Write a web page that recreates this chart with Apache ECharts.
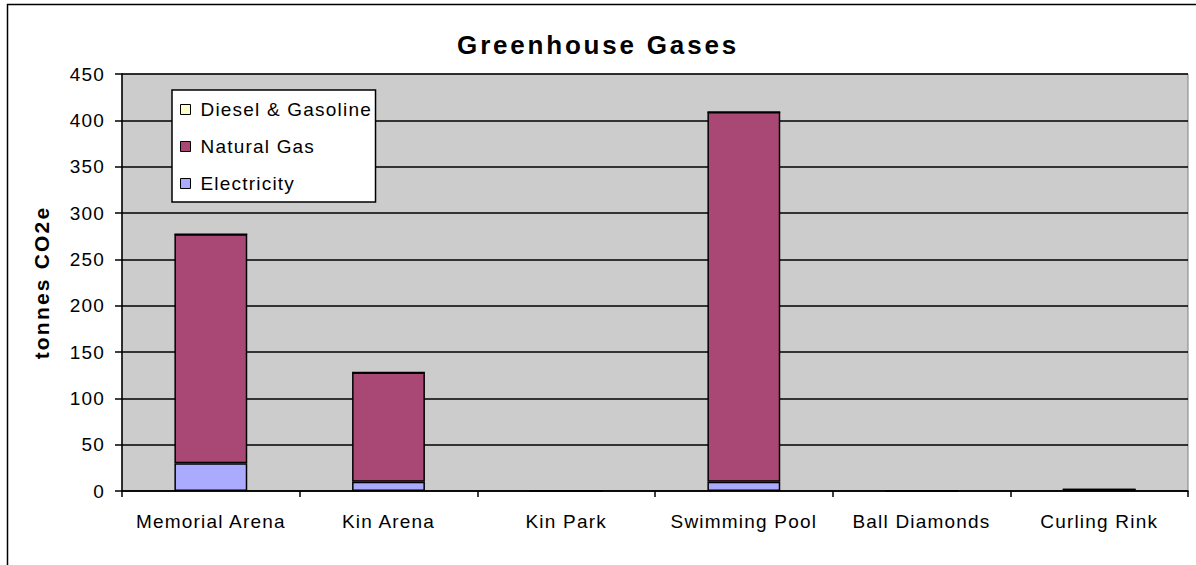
<!DOCTYPE html>
<html>
<head>
<meta charset="utf-8">
<script src="https://cdn.jsdelivr.net/npm/echarts@6/dist/echarts.min.js"></script>
<style>html,body{margin:0;padding:0;background:#fff}#c{width:1196px;height:565px}#c svg text{letter-spacing:1.2px}</style>
</head>
<body>
<div id="c"></div>
<script>
const categories = ['Memorial Arena', 'Kin Arena', 'Kin Park', 'Swimming Pool', 'Ball Diamonds', 'Curling Rink'];
const electricity = [30, 10, 0, 10, 0, 1.5];
const naturalGas = [247, 118, 0, 399, 0, 0];
const dieselGasoline = [0, 0, 0, 0, 0, 0];
const yTicks = { min: 0, max: 450, interval: 50 };
const TITLE = 'Greenhouse Gases';
const Y_NAME = 'tonnes CO2e';

const FONT = '"Liberation Sans", Arial, sans-serif';
const chart = echarts.init(document.getElementById('c'), null, { renderer: 'svg' });
const barStyle = (color) => ({ color: color, borderColor: '#000', borderWidth: 1.5 });

chart.setOption({
  animation: false,
  backgroundColor: '#fff',
  textStyle: { fontFamily: FONT, color: '#000' },
  title: {
    text: TITLE, left: 'center', top: 27,
    textStyle: { fontFamily: FONT, fontSize: 26, fontWeight: 'bold', color: '#000' }
  },
  graphic: [{
    type: 'rect', left: 5, top: 2, z: -1,
    shape: { width: 1400, height: 800 },
    style: { fill: 'none', stroke: '#000', lineWidth: 1.5 }
  }],
  legend: {
    orient: 'vertical', left: 172, top: 90,
    data: ['Diesel & Gasoline', 'Natural Gas', 'Electricity'],
    backgroundColor: '#fff', borderColor: '#000', borderWidth: 1.5,
    padding: [10, 24, 9, 8], itemGap: 18, itemWidth: 10, itemHeight: 10,
    icon: 'rect',
    itemStyle: { borderColor: '#000', borderWidth: 1 },
    textStyle: { fontFamily: FONT, fontSize: 19, color: '#000', padding: [0, 0, 0, 5] }
  },
  grid: {
    left: 122, right: 8, top: 74, bottom: 74,
    show: true, backgroundColor: '#cccccc', borderColor: '#808080', borderWidth: 1
  },
  xAxis: {
    type: 'category', data: categories,
    axisLine: { lineStyle: { color: '#000', width: 1.5 } },
    axisTick: { show: true, alignWithLabel: false, length: 6, lineStyle: { color: '#000', width: 1.5 } },
    axisLabel: { fontFamily: FONT, fontSize: 19, color: '#000', margin: 21 }
  },
  yAxis: {
    type: 'value', min: yTicks.min, max: yTicks.max, interval: yTicks.interval,
    name: Y_NAME, nameLocation: 'middle', nameGap: 70, nameRotate: 90,
    nameTextStyle: { fontFamily: FONT, fontSize: 21, fontWeight: 'bold', color: '#000' },
    axisLine: { show: true, lineStyle: { color: '#000', width: 1.5 } },
    axisTick: { show: true, length: 7, lineStyle: { color: '#000', width: 1.5 } },
    axisLabel: { fontFamily: FONT, fontSize: 19, color: '#000', margin: 17 },
    splitLine: { show: true, lineStyle: { color: '#000', width: 1.5 } }
  },
  series: [
    { name: 'Electricity', type: 'bar', stack: 'g', data: electricity, barWidth: '41%', itemStyle: barStyle('#aaaaff') },
    { name: 'Natural Gas', type: 'bar', stack: 'g', data: naturalGas, itemStyle: barStyle('#a94875') },
    { name: 'Diesel & Gasoline', type: 'bar', stack: 'g', data: dieselGasoline, itemStyle: barStyle('#ffffcc') }
  ]
});

function applySpacing() {
  document.querySelectorAll('#c svg text').forEach(function (t) {
    const s = t.textContent;
    if (s === TITLE) t.style.letterSpacing = '2.8px';
    else if (s === Y_NAME) t.style.letterSpacing = '2.2px';
  });
}
chart.on('finished', applySpacing);
requestAnimationFrame(function () { applySpacing(); requestAnimationFrame(applySpacing); });
setTimeout(applySpacing, 50);
setTimeout(applySpacing, 300);
</script>
</body>
</html>
